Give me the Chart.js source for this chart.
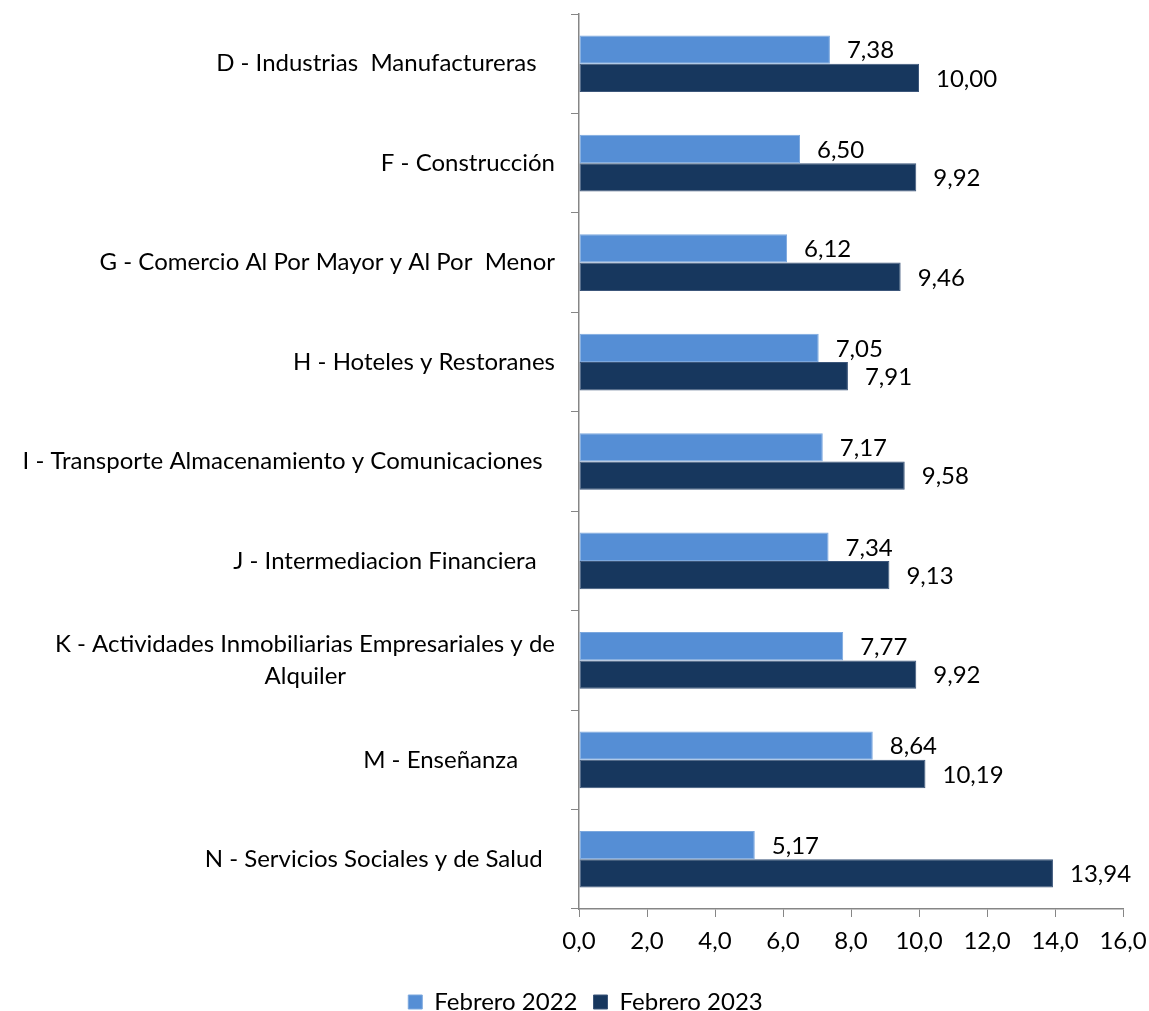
<!DOCTYPE html>
<html>
<head>
<meta charset="utf-8">
<script src="https://cdn.jsdelivr.net/npm/chart.js@4.4.1/dist/chart.umd.min.js"></script>
<style>
  html, body { margin: 0; padding: 0; background: #fff; }
  #wrap { width: 1149px; height: 1011px; }
</style>
</head>
<body>
<div id="wrap"><canvas id="myBarChart"></canvas></div>
<script>
var FONT = "Lato";
var FS = 24;

var categories = [
  "D - Industrias  Manufactureras   ",
  "F - Construcción",
  "G - Comercio Al Por Mayor y Al Por  Menor",
  "H - Hoteles y Restoranes",
  "I - Transporte Almacenamiento y Comunicaciones  ",
  "J - Intermediacion Financiera   ",
  ["K - Actividades Inmobiliarias Empresariales y de", "Alquiler"],
  "M - Enseñanza      ",
  "N - Servicios Sociales y de Salud  ",
];

var feb2022 = [7.38, 6.50, 6.12, 7.05, 7.17, 7.34, 7.77, 8.64, 5.17];
var feb2023 = [10.00, 9.92, 9.46, 7.91, 9.58, 9.13, 9.92, 10.19, 13.94];

var seriesNames = ["Febrero 2022", "Febrero 2023"];
var xTicks = [0, 2, 4, 6, 8, 10, 12, 14, 16];

var colors = ["rgb(85, 142, 213)", "rgb(23, 55, 94)"];
var colorBorders = ["rgb(124, 168, 222)", "rgb(60, 86, 122)"];

function comma(v, d) {
  return v.toFixed(d).replace(".", ",");
}

// pad the second line so it sits centred under the first (labels are right aligned)
var measureCtx = document.createElement("canvas").getContext("2d");
measureCtx.font = FS + "px " + FONT;
function centerUnder(lines) {
  var w0 = measureCtx.measureText(lines[0]).width;
  var w1 = measureCtx.measureText(lines[1]).width;
  var sp = measureCtx.measureText(" ").width;
  var n = Math.round((w0 - w1) / 2 / sp);
  return [lines[0], lines[1] + " ".repeat(Math.max(0, n))];
}
var yLabels = categories.map(function (c) {
  return Array.isArray(c) ? centerUnder(c) : c;
});

var valueLabels = {
  id: "valueLabels",
  afterDatasetsDraw: function (chart) {
    var ctx = chart.ctx;
    ctx.save();
    ctx.font = FS + "px " + FONT;
    ctx.fillStyle = "#000";
    ctx.textAlign = "left";
    ctx.textBaseline = "middle";
    chart.data.datasets.forEach(function (ds, i) {
      chart.getDatasetMeta(i).data.forEach(function (bar, j) {
        ctx.fillText(comma(ds.data[j], 2), bar.x + 17, bar.y + 1);
      });
    });
    ctx.restore();
  },
};

// legend in the original sits a little right of the canvas centre
var legendShift = {
  id: "legendShift",
  afterLayout: function (chart) {
    if (chart.legend) {
      chart.legend.left += 24;
      chart.legend.right += 24;
      chart.legend.top -= 4;
      chart.legend.bottom -= 4;
    }
  },
};

var myBarChart = document.getElementById("myBarChart");

var barChartConfig = {
  type: "bar",
  data: {
    labels: yLabels,
    datasets: [
      {
        label: seriesNames[0],
        data: feb2022,
        backgroundColor: colors[0],
        borderColor: colorBorders[0],
        borderWidth: 1,
        borderSkipped: false,
      },
      {
        label: seriesNames[1],
        data: feb2023,
        backgroundColor: colors[1],
        borderColor: colorBorders[1],
        borderWidth: 1,
        borderSkipped: false,
      },
    ],
  },
  options: {
    indexAxis: "y",
    responsive: true,
    maintainAspectRatio: false,
    animation: false,
    categoryPercentage: 0.57,
    barPercentage: 1,
    layout: { padding: { top: 14, right: 26, left: 0, bottom: -17 } },
    scales: {
      x: {
        min: 0,
        max: 16,
        afterBuildTicks: function (scale) {
          scale.ticks = xTicks.map(function (v) { return { value: v }; });
        },
        afterFit: function (scale) {
          scale.height = 69;
          scale.paddingLeft = 0;
          scale.paddingRight = 0;
        },
        ticks: {
          color: "#000",
          font: { family: FONT, size: FS },
          padding: 10,
          callback: function (v) { return comma(v, 1); },
        },
        grid: { drawOnChartArea: false, color: "#868686", tickLength: 8 },
        border: { color: "#868686", width: 1.5 },
      },
      y: {
        afterFit: function (scale) {
          scale.width = 579;
          scale.paddingTop = 0;
          scale.paddingBottom = 0;
        },
        ticks: {
          color: "#000",
          font: { family: FONT, size: FS, lineHeight: 1.33 },
          padding: 16,
        },
        grid: { drawOnChartArea: false, color: "#868686", tickLength: 8, offset: true },
        border: { color: "#868686", width: 1.5 },
      },
    },
    plugins: {
      legend: {
        position: "bottom",
        labels: {
          color: "#000",
          font: { family: FONT, size: FS },
          boxWidth: 14,
          boxHeight: 14,
          padding: 16,
        },
      },
      tooltip: { enabled: false },
    },
  },
  plugins: [valueLabels, legendShift],
};

var barChart = new Chart(myBarChart, barChartConfig);
</script>
</body>
</html>
